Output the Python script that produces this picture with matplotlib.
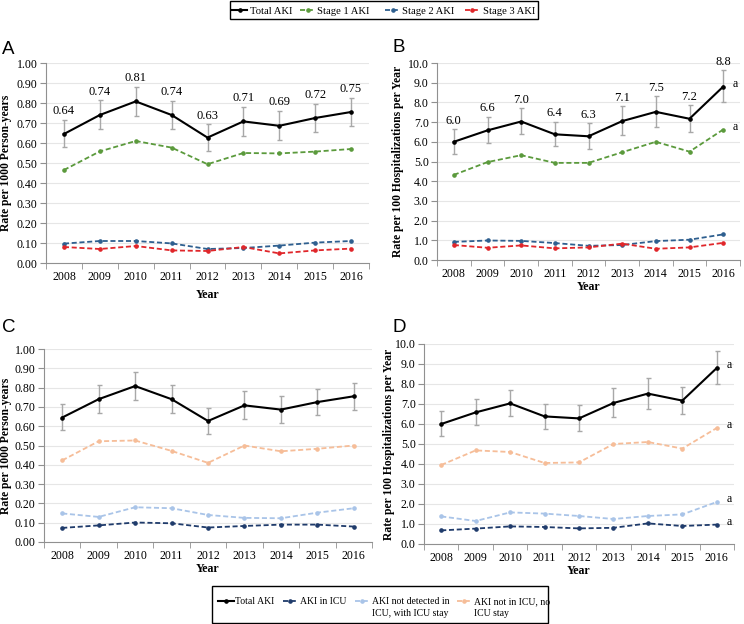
import matplotlib
matplotlib.use("Agg")
import matplotlib.pyplot as plt
from matplotlib.lines import Line2D
from matplotlib.patches import Rectangle
import numpy as np

plt.rcParams['font.family'] = ['Liberation Serif', 'DejaVu Serif']

years = [2008, 2009, 2010, 2011, 2012, 2013, 2014, 2015, 2016]

# rate per 1000 person-years (panels A and C)
total_py = [0.645, 0.740, 0.808, 0.740, 0.627, 0.708, 0.686, 0.725, 0.755]
total_py_lo = [0.578, 0.668, 0.735, 0.670, 0.562, 0.637, 0.614, 0.656, 0.686]
total_py_hi = [0.714, 0.813, 0.882, 0.811, 0.693, 0.781, 0.759, 0.795, 0.825]
total_py_labels = ['0.64', '0.74', '0.81', '0.74', '0.63', '0.71', '0.69', '0.72', '0.75']
stage1_py = [0.465, 0.558, 0.610, 0.577, 0.494, 0.550, 0.548, 0.557, 0.570]
stage2_py = [0.097, 0.110, 0.110, 0.098, 0.070, 0.075, 0.087, 0.102, 0.110]
stage3_py = [0.080, 0.070, 0.085, 0.063, 0.060, 0.080, 0.048, 0.063, 0.072]
icu_py = [0.073, 0.086, 0.101, 0.097, 0.075, 0.083, 0.090, 0.090, 0.080]
notdet_py = [0.148, 0.130, 0.180, 0.175, 0.140, 0.125, 0.123, 0.152, 0.175]
noicu_py = [0.423, 0.522, 0.526, 0.472, 0.410, 0.500, 0.470, 0.483, 0.500]

# rate per 100 hospitalizations (panels B and D)
total_h = [6.00, 6.58, 7.03, 6.38, 6.28, 7.05, 7.52, 7.17, 8.80]
total_h_lo = [5.38, 5.93, 6.38, 5.77, 5.63, 6.33, 6.75, 6.48, 8.00]
total_h_hi = [6.63, 7.25, 7.70, 7.00, 6.93, 7.80, 8.30, 7.85, 9.63]
total_h_labels = ['6.0', '6.6', '7.0', '6.4', '6.3', '7.1', '7.5', '7.2', '8.8']
stage1_h = [4.32, 4.97, 5.32, 4.93, 4.93, 5.47, 6.00, 5.50, 6.62]
stage2_h = [0.92, 0.99, 0.97, 0.86, 0.72, 0.76, 0.96, 1.03, 1.30]
stage3_h = [0.76, 0.62, 0.74, 0.59, 0.64, 0.83, 0.57, 0.64, 0.87]
icu_h = [0.68, 0.77, 0.88, 0.85, 0.78, 0.81, 1.03, 0.90, 0.97]
notdet_h = [1.38, 1.15, 1.58, 1.52, 1.40, 1.25, 1.40, 1.48, 2.10]
noicu_h = [3.95, 4.68, 4.60, 4.05, 4.08, 5.00, 5.10, 4.77, 5.80]

top_labels = ['Total AKI', 'Stage 1 AKI', 'Stage 2 AKI', 'Stage 3 AKI']
bot_labels = ['Total AKI', 'AKI in ICU', 'AKI not detected in\nICU, with ICU stay',
              'AKI not in ICU, no\nICU stay']

c_total = 'black'
c_s1 = '#5b9a3c'
c_s2 = '#2e5f8f'
c_s3 = '#e0262a'
c_icu = '#1f3b6b'
c_notdet = '#a9c4e8'
c_noicu = '#f6bd98'
DASH = (0, (2.8, 1.5))

W, H = 744, 624
fig = plt.figure(figsize=(W / 100, H / 100), dpi=100)


def px(x, y):
    # pixel (from top-left) -> figure fraction
    return x / W, 1 - y / H


def make_ax(l, r, t, b):
    ax = fig.add_axes([l / W, 1 - b / H, (r - l) / W, (b - t) / H])
    ax._px = (l, r, t, b)
    return ax


def style(ax, ymax, step, fmt, ylabel, ylab_x, xlab_y):
    l, r, t, b = ax._px
    x = np.arange(len(years))
    ticks = np.arange(0, ymax + step / 2, step)
    ax.set_xlim(-0.5, len(years) - 0.5)
    ax.set_ylim(0, ymax)
    ax.set_yticks(ticks)
    ax.set_yticklabels([fmt % v for v in ticks], fontsize=8.6)
    ax.set_xticks(x)
    ax.set_xticklabels([str(y) for y in years], fontsize=8.6)
    ax.set_xticks(np.arange(-0.5, len(years), 1), minor=True)
    ax.tick_params(axis='x', which='major', length=0, pad=6)
    ax.tick_params(axis='x', which='minor', length=4, color='#909090')
    ax.tick_params(axis='y', length=4, color='#909090', pad=2)
    ax.grid(axis='y', color='#e6e6e6', lw=0.8)
    ax.set_axisbelow(True)
    for s in ['top', 'right']:
        ax.spines[s].set_visible(False)
    for s in ['left', 'bottom']:
        ax.spines[s].set_color('#909090')
        ax.spines[s].set_linewidth(0.8)
    ax.set_xlabel('Year', fontsize=8.6, fontweight='bold')
    ax.set_ylabel(ylabel, fontsize=8.4, fontweight='bold')
    ax.yaxis.set_label_coords((ylab_x - l) / (r - l), 0.5)
    ax.xaxis.set_label_coords(0.5, -(xlab_y - b) / (b - t))
    ax.xaxis.label.set_va('center')
    ax.yaxis.label.set_va('center')


def dashed(ax, vals, color):
    ax.plot(range(len(years)), vals, color=color, ls=DASH, lw=1.3,
            marker='o', ms=2.3, zorder=3)


def total(ax, vals, lo, hi):
    x = np.arange(len(years))
    v = np.array(vals)
    ax.errorbar(x, v, yerr=[v - np.array(lo), np.array(hi) - v], fmt='none',
                ecolor='#a8a8a8', elinewidth=1, capsize=1.8, capthick=1, zorder=2)
    ax.plot(x, v, color=c_total, lw=1.5, marker='o', ms=2.3, zorder=4)


def value_labels(ax, hi, labels):
    for i, (h, lab) in enumerate(zip(hi, labels)):
        ax.annotate(lab, (i, h), xytext=(0, 2), textcoords='offset points',
                    ha='center', va='bottom', fontsize=9)


def mark_a(ax, series):
    for vals in series:
        ax.annotate('a', (len(years) - 1, vals[-1]), xytext=(7, 2),
                    textcoords='offset points', ha='left', va='center', fontsize=8.5)


def panel_letter(s, x, y):
    fig.text(*px(x, y), s, fontsize=13.5, family='Liberation Sans', va='center', ha='left')


# Panel A
axA = make_ax(46, 369, 63, 263)
style(axA, 1.0, 0.1, '%.2f', 'Rate per 1000 Person-years', 6, 295)
dashed(axA, stage2_py, c_s2)
dashed(axA, stage3_py, c_s3)
dashed(axA, stage1_py, c_s1)
total(axA, total_py, total_py_lo, total_py_hi)
value_labels(axA, total_py_hi, total_py_labels)
panel_letter('A', 2, 50)

# Panel B
axB = make_ax(437, 740, 63, 260)
style(axB, 10.0, 1.0, '%.1f', 'Rate per 100 Hospitalizations per Year', 398, 287)
dashed(axB, stage2_h, c_s2)
dashed(axB, stage3_h, c_s3)
dashed(axB, stage1_h, c_s1)
total(axB, total_h, total_h_lo, total_h_hi)
value_labels(axB, total_h_hi, total_h_labels)
mark_a(axB, [total_h, stage1_h])
panel_letter('B', 393, 48)

# Panel C
axC = make_ax(44, 372, 349, 542)
style(axC, 1.0, 0.1, '%.2f', 'Rate per 1000 Person-years', 6, 569)
dashed(axC, icu_py, c_icu)
dashed(axC, notdet_py, c_notdet)
dashed(axC, noicu_py, c_noicu)
total(axC, total_py, total_py_lo, total_py_hi)
panel_letter('C', 2, 328)

# Panel D
axD = make_ax(424, 734, 344, 544)
style(axD, 10.0, 1.0, '%.1f', 'Rate per 100 Hospitalizations per Year', 389, 571)
dashed(axD, icu_h, c_icu)
dashed(axD, notdet_h, c_notdet)
dashed(axD, noicu_h, c_noicu)
total(axD, total_h, total_h_lo, total_h_hi)
mark_a(axD, [total_h, noicu_h, notdet_h, icu_h])
panel_letter('D', 392, 328)


def legend_box(box, items, y_line, fs, line_gap):
    # box: (left, top, right, bottom) in pixels
    # items: (handle start, handle end, text x, color, dashed, label)
    l, t, r, b = box
    fig.add_artist(Rectangle(px(l, b), (r - l) / W, (b - t) / H, transform=fig.transFigure,
                             fill=False, ec='black', lw=1.0))
    for h0, h1, tx, color, is_dashed, label in items:
        x0, y0 = px(h0, y_line)
        x1, _ = px(h1, y_line)
        fig.add_artist(Line2D([x0, x1], [y0, y0], transform=fig.transFigure, color=color,
                              lw=1.5 if not is_dashed else 1.3, ls=DASH if is_dashed else '-'))
        fig.add_artist(Line2D([(x0 + x1) / 2], [y0], transform=fig.transFigure, color=color,
                              marker='o', ms=2.3, ls='none'))
        for k, line in enumerate(label.split('\n')):
            fig.text(*px(tx, y_line + k * line_gap), line, fontsize=fs,
                     ha='left', va='center_baseline')


legend_box((230, 1, 538, 19),
           [(232, 247, 250, c_total, False, top_labels[0]),
            (300, 315, 317, c_s1, True, top_labels[1]),
            (385, 400, 402, c_s2, True, top_labels[2]),
            (465, 480, 483, c_s3, True, top_labels[3])],
           10, 7.7, 12)
legend_box((212, 586, 548, 623),
           [(218, 234, 235, c_total, False, bot_labels[0]),
            (283, 297, 300, c_icu, True, bot_labels[1]),
            (355, 368, 372, c_notdet, True, bot_labels[2]),
            (457, 471, 474, c_noicu, True, bot_labels[3])],
           601, 7.0, 12)

fig.savefig('out.png', dpi=100)
